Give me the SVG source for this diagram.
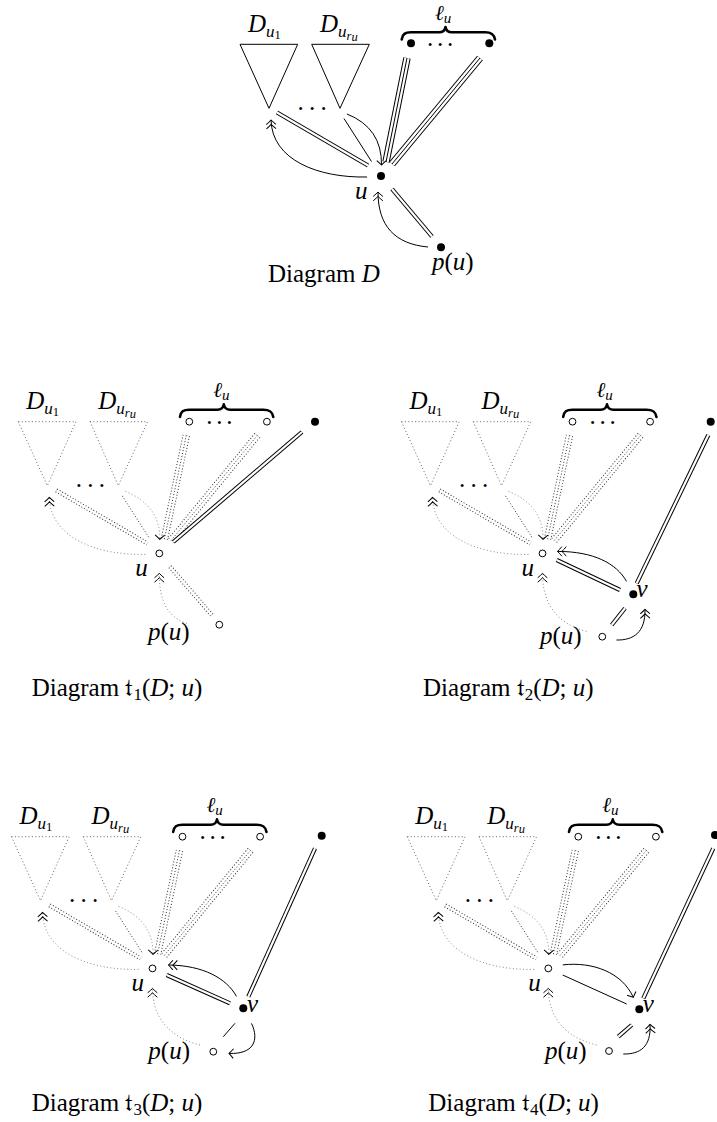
<svg xmlns="http://www.w3.org/2000/svg" width="717" height="1122" viewBox="0 0 717 1122">
<style>
.t{font-family:"Liberation Serif","DejaVu Serif",serif;font-size:25px;fill:#000}
.it{font-style:italic}
.up{font-style:normal}
.ell{font-family:"Liberation Serif","DejaVu Serif",serif;font-size:21px;font-style:italic;fill:#000}
.frak{font-family:"DejaVu Serif","DejaVu Sans","Noto Sans",serif;font-style:normal}
.ln{fill:none;stroke:#000;stroke-width:1}
.tri{fill:none;stroke:#000;stroke-width:1}
.dtri{fill:none;stroke:#666;stroke-width:1;stroke-dasharray:1 2.4}
.dblo{fill:none;stroke:#000;stroke-width:4.2}
.ddo{fill:none;stroke:#333;stroke-width:4.2;stroke-dasharray:1 2}
.dbli{fill:none;stroke:#fff;stroke-width:2.2}
.trio{fill:none;stroke:#000;stroke-width:7.4}
.dto{fill:none;stroke:#333;stroke-width:7.4;stroke-dasharray:1 2}
.trii{fill:none;stroke:#fff;stroke-width:5.4}
.dl{fill:none;stroke:#333;stroke-width:1;stroke-dasharray:1 2}
.dc{fill:none;stroke:#888;stroke-width:1;stroke-dasharray:1 2.4}
.brace{fill:none;stroke:#000;stroke-width:2.6;stroke-linecap:round;stroke-linejoin:round}
.fd{fill:#000}
.od{fill:#fff;stroke:#000;stroke-width:1}
.dots{font-family:"Liberation Serif",serif;font-size:25px;letter-spacing:5.25px;fill:#000}
.dots2{font-family:"Liberation Serif",serif;font-size:25px;letter-spacing:3.75px;fill:#000}
</style>
<defs>
<marker id="dh" markerUnits="userSpaceOnUse" viewBox="-12 -7 14 14" refX="0" refY="0" markerWidth="14" markerHeight="14" orient="auto" overflow="visible">
<path d="M-4.4,-4.8 Q-1.5,-1.4 0,0 Q-1.5,1.4 -4.4,4.8 M-8.8,-4.8 Q-5.9,-1.4 -4.4,0 Q-5.9,1.4 -8.8,4.8" fill="none" stroke="#000" stroke-width="1"/>
</marker>
<marker id="sh" markerUnits="userSpaceOnUse" viewBox="-12 -7 14 14" refX="0" refY="0" markerWidth="14" markerHeight="14" orient="auto" overflow="visible">
<path d="M-4.4,-4.8 Q-1.5,-1.4 0,0 Q-1.5,1.4 -4.4,4.8" fill="none" stroke="#000" stroke-width="1"/>
</marker>
</defs>

<!-- ================= Diagram D ================= -->
<g id="diagram-D">
<g id="D-connectors">
<path class="dblo" d="M277,112.5 L368,165.5"/><path class="dbli" d="M277,112.5 L368,165.5"/>
<path class="trio" d="M407,58 L386,162"/><path class="trii" d="M407,58 L386,162"/><path class="ln" d="M407,58 L386,162"/>
<path class="trio" d="M480,58 L392,164"/><path class="trii" d="M480,58 L392,164"/><path class="ln" d="M480,58 L392,164"/>
<path class="dblo" d="M392,189 L432,236.5"/><path class="dbli" d="M392,189 L432,236.5"/>
<path class="ln" d="M344,118.5 L371.5,161.5"/>
<path class="ln" d="M367,177 C318,178 272,160 271,120" marker-end="url(#dh)"/>
<path class="ln" d="M347,114 Q382,128 381.5,165" marker-end="url(#sh)"/>
<path class="ln" d="M428,247 C395,244 378,226 378,192" marker-end="url(#dh)"/>
</g>
<g id="D-Du1"><polygon class="tri" points="240,44.3 297.7,44.3 269,108.3"/><text class="t it" x="248" y="32">D<tspan font-size="17" dy="5">u</tspan><tspan class="up" font-size="12.5" dy="1.5">1</tspan></text></g>
<g id="D-Dur"><polygon class="tri" points="311.7,44.3 369.3,44.3 340,108.3"/><text class="t it" x="320" y="32">D<tspan font-size="17" dy="5">u</tspan><tspan font-size="12.5" dy="3">r</tspan><tspan font-size="12.5" dy="1">u</tspan></text></g>
<g id="D-dots"><text class="dots" x="297.4" y="110">...</text></g>
<g id="D-ell"><path class="brace" d="M401.7,39.5 C402.5,34 405,32.3 411,32.3 L439,32.3 C443,32.3 445,30.5 445.5,27 C446,30.5 448,32.3 452,32.3 L485,32.3 C491,32.3 494,34 495,39.5"/><text class="ell" x="435" y="20">ℓ<tspan font-size="15" dy="2.5">u</tspan></text>
<circle class="fd" cx="411" cy="43.3" r="4"/><text class="dots2" x="427" y="45.5">...</text><circle class="fd" cx="489.3" cy="43.3" r="4"/></g>
<g id="D-u"><circle class="fd" cx="381" cy="176" r="4"/><text class="t it" x="355" y="199">u</text></g>
<g id="D-pu"><circle class="fd" cx="441" cy="247.3" r="4"/><text class="t it" x="432" y="270">p<tspan class="up">(</tspan>u<tspan class="up">)</tspan></text></g>
</g>

<!-- ================= Diagram t1 ================= -->
<g id="diagram-t1" transform="translate(-221.7,377.4)">
<g id="t1-connectors">
<path class="ddo" d="M278,113 L369,166"/><path class="dbli" d="M278,113 L369,166"/>
<path class="dto" d="M408,58 L386,162"/><path class="trii" d="M408,58 L386,162"/><path class="dl" d="M408,58 L386,162"/>
<path class="dto" d="M479,58 L392,164"/><path class="trii" d="M479,58 L392,164"/><path class="dl" d="M479,58 L392,164"/>
<path class="dblo" d="M523.7,54.6 L395,164.6"/><path class="dbli" d="M523.7,54.6 L395,164.6"/>
<path class="ddo" d="M391.7,189.3 L433.4,237.6"/><path class="dbli" d="M391.7,189.3 L433.4,237.6"/>
<path class="dl" d="M344,118.5 L371.5,161.5"/>
<path class="dc" d="M367,177 C318,178 272,160 271,120" marker-end="url(#dh)"/>
<path class="dc" d="M347,114 Q382,128 381.5,162" marker-end="url(#sh)"/>
<path class="dc" d="M408.5,246 C390,240 381,225 381,196" marker-end="url(#dh)"/>
</g>
<g id="t1-Du1"><polygon class="dtri" points="240,44.3 297.7,44.3 269,108.3"/><text class="t it" x="248" y="32">D<tspan font-size="17" dy="5">u</tspan><tspan class="up" font-size="12.5" dy="1.5">1</tspan></text></g>
<g id="t1-Dur"><polygon class="dtri" points="311.7,44.3 369.3,44.3 340,108.3"/><text class="t it" x="320" y="32">D<tspan font-size="17" dy="5">u</tspan><tspan font-size="12.5" dy="3">r</tspan><tspan font-size="12.5" dy="1">u</tspan></text></g>
<g id="t1-dots"><text class="dots" x="297.4" y="110">...</text></g>
<g id="t1-ell"><path class="brace" d="M401.7,39.5 C402.5,34 405,32.3 411,32.3 L439,32.3 C443,32.3 445,30.5 445.5,27 C446,30.5 448,32.3 452,32.3 L485,32.3 C491,32.3 494,34 495,39.5"/><text class="ell" x="435" y="20">ℓ<tspan font-size="15" dy="2.5">u</tspan></text>
<circle class="od" cx="411" cy="44.3" r="3.4"/><text class="dots2" x="428" y="46.5">...</text><circle class="od" cx="488.6" cy="44.3" r="3.4"/></g>
<g id="t1-w"><circle class="fd" cx="536.7" cy="44.3" r="4"/></g>
<g id="t1-u"><circle class="od" cx="381" cy="176" r="3.4"/><text class="t it" x="357" y="199">u</text></g>
<g id="t1-pu"><circle class="od" cx="441" cy="247.3" r="3.4"/><text class="t it" x="369.7" y="263">p<tspan class="up">(</tspan>u<tspan class="up">)</tspan></text></g>
</g>

<!-- ================= Diagram t2 ================= -->
<g id="diagram-t2" transform="translate(161.5,377.4)">
<g id="t2-connectors">
<path class="ddo" d="M278,113 L369,166"/><path class="dbli" d="M278,113 L369,166"/>
<path class="dto" d="M408,58 L386,162"/><path class="trii" d="M408,58 L386,162"/><path class="dl" d="M408,58 L386,162"/>
<path class="dto" d="M479,58 L392,164"/><path class="trii" d="M479,58 L392,164"/><path class="dl" d="M479,58 L392,164"/>
<path class="dblo" d="M546.8,57.6 L475.2,205.9"/><path class="dbli" d="M546.8,57.6 L475.2,205.9"/>
<path class="dblo" d="M395.2,182.6 L458.5,212.6"/><path class="dbli" d="M395.2,182.6 L458.5,212.6"/>
<path class="dblo" d="M450.2,247.6 L463.5,230.9"/><path class="dbli" d="M450.2,247.6 L463.5,230.9"/>
<path class="dl" d="M344,118.5 L371.5,161.5"/>
<path class="dc" d="M367,177 C318,178 272,160 271,120" marker-end="url(#dh)"/>
<path class="dc" d="M347,114 Q382,128 381.5,162" marker-end="url(#sh)"/>
<path class="dc" d="M425,254 C395,246 381,226 381,196" marker-end="url(#dh)"/>
<path class="ln" d="M465,204 C455,186 432,174 396,174" marker-end="url(#dh)"/>
<path class="ln" d="M455,262.6 C472,263 484,255 483.5,232" marker-end="url(#dh)"/>
</g>
<g id="t2-Du1"><polygon class="dtri" points="240,44.3 297.7,44.3 269,108.3"/><text class="t it" x="248" y="32">D<tspan font-size="17" dy="5">u</tspan><tspan class="up" font-size="12.5" dy="1.5">1</tspan></text></g>
<g id="t2-Dur"><polygon class="dtri" points="311.7,44.3 369.3,44.3 340,108.3"/><text class="t it" x="320" y="32">D<tspan font-size="17" dy="5">u</tspan><tspan font-size="12.5" dy="3">r</tspan><tspan font-size="12.5" dy="1">u</tspan></text></g>
<g id="t2-dots"><text class="dots" x="297.4" y="110">...</text></g>
<g id="t2-ell"><path class="brace" d="M401.7,39.5 C402.5,34 405,32.3 411,32.3 L439,32.3 C443,32.3 445,30.5 445.5,27 C446,30.5 448,32.3 452,32.3 L485,32.3 C491,32.3 494,34 495,39.5"/><text class="ell" x="435" y="20">ℓ<tspan font-size="15" dy="2.5">u</tspan></text>
<circle class="od" cx="411" cy="44.3" r="3.4"/><text class="dots2" x="428" y="46.5">...</text><circle class="od" cx="488.6" cy="44.3" r="3.4"/></g>
<g id="t2-w"><circle class="fd" cx="549.2" cy="44.3" r="4"/></g>
<g id="t2-u"><circle class="od" cx="381" cy="176" r="3.4"/><text class="t it" x="360" y="199">u</text></g>
<g id="t2-v"><circle class="fd" cx="471.8" cy="216.9" r="4"/><text class="t it" x="475" y="220">v</text></g>
<g id="t2-pu"><circle class="od" cx="440.8" cy="259.3" r="3.4"/><text class="t it" x="378.5" y="266.5">p<tspan class="up">(</tspan>u<tspan class="up">)</tspan></text></g>
</g>

<!-- ================= Diagram t3 ================= -->
<g id="diagram-t3" transform="translate(-228.5,792.4)">
<g id="t3-connectors">
<path class="ddo" d="M278,113 L369,166"/><path class="dbli" d="M278,113 L369,166"/>
<path class="dto" d="M408,58 L386,162"/><path class="trii" d="M408,58 L386,162"/><path class="dl" d="M408,58 L386,162"/>
<path class="dto" d="M479,58 L392,164"/><path class="trii" d="M479,58 L392,164"/><path class="dl" d="M479,58 L392,164"/>
<path class="dblo" d="M543.5,55.9 L476.8,204.3"/><path class="dbli" d="M543.5,55.9 L476.8,204.3"/>
<path class="dblo" d="M395.2,182.6 L458.5,210.9"/><path class="dbli" d="M395.2,182.6 L458.5,210.9"/>
<path class="ln" d="M451.8,244.3 L463.5,230.9"/>
<path class="dl" d="M344,118.5 L371.5,161.5"/>
<path class="dc" d="M367,177 C318,178 272,160 271,120" marker-end="url(#dh)"/>
<path class="dc" d="M347,114 Q382,128 381.5,162" marker-end="url(#sh)"/>
<path class="dc" d="M428.5,252.6 C398,245 381,225 381,196" marker-end="url(#dh)"/>
<path class="ln" d="M465,204 C455,186 432,173 397,172.6" marker-end="url(#dh)"/>
<path class="ln" d="M480,231 C488,248 482,262 457.5,261" marker-end="url(#sh)"/>
</g>
<g id="t3-Du1"><polygon class="dtri" points="240,44.3 297.7,44.3 269,108.3"/><text class="t it" x="248" y="32">D<tspan font-size="17" dy="5">u</tspan><tspan class="up" font-size="12.5" dy="1.5">1</tspan></text></g>
<g id="t3-Dur"><polygon class="dtri" points="311.7,44.3 369.3,44.3 340,108.3"/><text class="t it" x="320" y="32">D<tspan font-size="17" dy="5">u</tspan><tspan font-size="12.5" dy="3">r</tspan><tspan font-size="12.5" dy="1">u</tspan></text></g>
<g id="t3-dots"><text class="dots" x="297.4" y="110">...</text></g>
<g id="t3-ell"><path class="brace" d="M401.7,39.5 C402.5,34 405,32.3 411,32.3 L439,32.3 C443,32.3 445,30.5 445.5,27 C446,30.5 448,32.3 452,32.3 L485,32.3 C491,32.3 494,34 495,39.5"/><text class="ell" x="435" y="20">ℓ<tspan font-size="15" dy="2.5">u</tspan></text>
<circle class="od" cx="411" cy="44.3" r="3.4"/><text class="dots2" x="428" y="46.5">...</text><circle class="od" cx="488.6" cy="44.3" r="3.4"/></g>
<g id="t3-w"><circle class="fd" cx="550.2" cy="43.3" r="4"/></g>
<g id="t3-u"><circle class="od" cx="381" cy="176" r="3.4"/><text class="t it" x="360" y="199">u</text></g>
<g id="t3-v"><circle class="fd" cx="471.8" cy="215.9" r="4"/><text class="t it" x="475.5" y="220">v</text></g>
<g id="t3-pu"><circle class="od" cx="441.8" cy="259.3" r="3.4"/><text class="t it" x="376.8" y="266.5">p<tspan class="up">(</tspan>u<tspan class="up">)</tspan></text></g>
</g>

<!-- ================= Diagram t4 ================= -->
<g id="diagram-t4" transform="translate(167.3,792.4)">
<g id="t4-connectors">
<path class="ddo" d="M278,113 L369,166"/><path class="dbli" d="M278,113 L369,166"/>
<path class="dto" d="M408,58 L386,162"/><path class="trii" d="M408,58 L386,162"/><path class="dl" d="M408,58 L386,162"/>
<path class="dto" d="M479,58 L392,164"/><path class="trii" d="M479,58 L392,164"/><path class="dl" d="M479,58 L392,164"/>
<path class="dblo" d="M546,55.9 L476,205.9"/><path class="dbli" d="M546,55.9 L476,205.9"/>
<path class="dblo" d="M451,244.3 L464.4,232.6"/><path class="dbli" d="M451,244.3 L464.4,232.6"/>
<path class="ln" d="M395.4,182.6 L459.4,211.6"/>
<path class="dl" d="M344,118.5 L371.5,161.5"/>
<path class="dc" d="M367,177 C318,178 272,160 271,120" marker-end="url(#dh)"/>
<path class="dc" d="M347,114 Q382,128 381.5,162" marker-end="url(#sh)"/>
<path class="dc" d="M429.4,252.6 C398,245 381,225 381,196" marker-end="url(#dh)"/>
<path class="ln" d="M395.5,172.5 C425,169 455,180 466,205" marker-end="url(#sh)"/>
<path class="ln" d="M456,261.6 C473,262 484,254 482.7,232" marker-end="url(#dh)"/>
</g>
<g id="t4-Du1"><polygon class="dtri" points="240,44.3 297.7,44.3 269,108.3"/><text class="t it" x="248" y="32">D<tspan font-size="17" dy="5">u</tspan><tspan class="up" font-size="12.5" dy="1.5">1</tspan></text></g>
<g id="t4-Dur"><polygon class="dtri" points="311.7,44.3 369.3,44.3 340,108.3"/><text class="t it" x="320" y="32">D<tspan font-size="17" dy="5">u</tspan><tspan font-size="12.5" dy="3">r</tspan><tspan font-size="12.5" dy="1">u</tspan></text></g>
<g id="t4-dots"><text class="dots" x="297.4" y="110">...</text></g>
<g id="t4-ell"><path class="brace" d="M401.7,39.5 C402.5,34 405,32.3 411,32.3 L439,32.3 C443,32.3 445,30.5 445.5,27 C446,30.5 448,32.3 452,32.3 L485,32.3 C491,32.3 494,34 495,39.5"/><text class="ell" x="435" y="20">ℓ<tspan font-size="15" dy="2.5">u</tspan></text>
<circle class="od" cx="411" cy="44.3" r="3.4"/><text class="dots2" x="428" y="46.5">...</text><circle class="od" cx="488.6" cy="44.3" r="3.4"/></g>
<g id="t4-w"><circle class="fd" cx="547.7" cy="42.6" r="4"/></g>
<g id="t4-u"><circle class="od" cx="381" cy="176" r="3.4"/><text class="t it" x="361" y="199">u</text></g>
<g id="t4-v"><circle class="fd" cx="472" cy="216.9" r="4"/><text class="t it" x="475.5" y="220">v</text></g>
<g id="t4-pu"><circle class="od" cx="441.7" cy="258.6" r="3.4"/><text class="t it" x="377.7" y="266.5">p<tspan class="up">(</tspan>u<tspan class="up">)</tspan></text></g>
</g>

<!-- ================= Captions ================= -->
<g id="captions">
<text class="t" x="268" y="282">Diagram <tspan class="it">D</tspan></text>
<text class="t" x="31.7" y="695.5">Diagram <tspan class="frak">𝔱</tspan><tspan font-size="17" dy="4">1</tspan><tspan dy="-4">(</tspan><tspan class="it">D</tspan>; <tspan class="it">u</tspan>)</text>
<text class="t" x="423" y="696">Diagram <tspan class="frak">𝔱</tspan><tspan font-size="17" dy="4">2</tspan><tspan dy="-4">(</tspan><tspan class="it">D</tspan>; <tspan class="it">u</tspan>)</text>
<text class="t" x="31.7" y="1110.5">Diagram <tspan class="frak">𝔱</tspan><tspan font-size="17" dy="4">3</tspan><tspan dy="-4">(</tspan><tspan class="it">D</tspan>; <tspan class="it">u</tspan>)</text>
<text class="t" x="428.3" y="1111">Diagram <tspan class="frak">𝔱</tspan><tspan font-size="17" dy="4">4</tspan><tspan dy="-4">(</tspan><tspan class="it">D</tspan>; <tspan class="it">u</tspan>)</text>
</g>
</svg>
